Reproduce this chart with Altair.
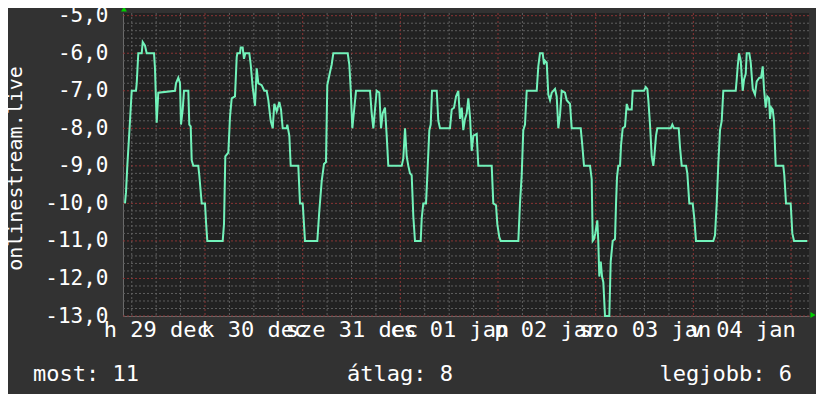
import json
import altair as alt
import pandas as pd
import numpy as np

# ---------------- data ----------------
START = "2014-12-29 03:51"          # left edge of plot
END = "2015-01-05 04:25"            # right edge of plot

# hours after START, and values
hours = [
    0.49, 0.74, 1.06, 1.72, 2.14, 3.19, 3.37, 3.76, 4.60, 4.84, 5.41, 5.82, 7.62, 7.86, 8.28, 8.67,
    12.78, 13.02, 13.59, 14.01, 14.25, 14.67, 14.99, 16.05, 16.29, 16.64, 16.88, 17.27, 18.50, 18.75,
    19.34, 20.15, 20.40, 20.72, 24.50, 24.82, 25.14, 25.88, 26.29, 26.71, 27.52, 27.94, 28.09, 28.75,
    28.92, 29.41, 29.73, 30.05, 31.04, 31.38, 31.87, 32.44, 32.85, 33.25, 34.08, 34.72, 35.31, 35.71,
    36.29, 36.79, 37.18, 37.77, 38.41, 38.83, 39.24, 40.23, 40.37, 40.87, 41.21, 43.08, 43.49, 44.16,
    44.72, 47.75, 48.24, 48.83, 49.39, 49.88, 50.20, 50.87, 51.28, 51.68, 55.22, 55.61, 55.95, 56.35,
    56.76, 57.26, 60.70, 61.11, 61.51, 61.92, 62.34, 62.98, 63.40, 63.82, 64.38, 64.80, 65.19, 68.49,
    68.88, 69.30, 69.71, 70.11, 70.52, 70.94, 71.34, 71.75, 73.15, 73.40, 73.79, 74.46, 74.78, 75.27,
    75.61, 75.93, 77.09, 77.48, 77.90, 80.35, 80.77, 81.34, 81.83, 82.39, 82.81, 83.23, 83.62, 84.04,
    84.46, 84.85, 85.27, 85.69, 86.08, 86.91, 87.31, 90.60, 90.99, 91.66, 91.98, 92.47, 92.81, 97.14,
    97.55, 97.97, 98.36, 98.78, 99.20, 101.66, 102.05, 102.47, 103.13, 103.45, 103.70, 104.12, 104.51,
    104.93, 105.35, 106.16, 106.57, 106.97, 107.38, 107.80, 108.61, 109.03, 109.84, 110.26, 112.47,
    112.86, 113.28, 114.76, 115.17, 115.42, 115.74, 116.06, 116.55, 116.80, 117.04, 117.39, 117.71,
    118.03, 118.44, 119.50, 119.84, 120.33, 120.90, 121.15, 121.39, 121.71, 122.13, 122.38, 122.79,
    123.36, 123.78, 124.17, 125.00, 125.25, 128.03, 128.45, 128.84, 129.09, 129.50, 129.92, 130.31,
    130.56, 130.97, 131.29, 134.59, 134.98, 135.40, 136.55, 136.87, 137.29, 138.35, 138.67, 139.16,
    139.99, 140.38, 140.80, 145.05, 145.47, 145.89, 146.28, 146.70, 147.12, 147.51, 150.56, 150.80,
    151.05, 151.37, 151.79, 152.28, 152.60, 153.02, 153.26, 153.90, 154.25, 154.74, 155.30, 155.72,
    156.36, 156.78, 157.19, 157.51, 157.93, 158.32, 158.74, 158.99, 159.31, 159.65, 159.97, 160.39,
    162.25, 162.50, 162.92, 164.07, 164.47, 164.89, 168.15,
]
values = [
    -10.0, -9.7, -9.0, -7.8, -7.0, -7.0, -6.8, -6.0, -6.0, -5.7, -5.8, -6.0, -6.0, -6.4, -7.85, -7.05,
    -7.0, -6.8, -6.65, -6.8, -7.9, -7.5, -7.0, -7.0, -7.9, -7.95, -8.85, -9.0, -9.0, -9.25,
    -10.0, -10.0, -10.5, -11.0, -11.0, -10.55, -8.75, -8.65, -7.7, -7.2, -7.15, -6.1, -6.0, -6.0,
    -5.85, -5.85, -6.15, -6.0, -6.0, -6.3, -6.9, -7.4, -6.4, -6.8, -6.85, -7.0, -7.0, -7.25,
    -7.8, -8.0, -7.35, -7.55, -7.3, -7.5, -8.0, -8.0, -7.9, -8.2, -9.0, -9.0, -10.0, -10.0,
    -11.0, -11.0, -10.2, -9.4, -8.95, -8.9, -6.85, -6.5, -6.3, -6.0, -6.0, -6.3, -6.95, -8.0,
    -7.55, -7.0, -7.0, -7.6, -8.0, -7.5, -7.0, -7.05, -8.0, -7.6, -7.45, -8.2, -9.0, -9.0,
    -8.8, -8.0, -8.75, -9.0, -9.2, -9.25, -10.35, -11.0, -11.0, -10.4, -10.0, -10.0, -9.25, -8.05,
    -7.9, -7.0, -7.0, -7.8, -8.0, -8.0, -7.5, -7.45, -7.15, -7.0, -7.75, -7.45, -8.05, -7.75,
    -7.6, -7.2, -7.7, -8.6, -8.2, -8.15, -9.0, -9.0, -10.0, -10.05, -10.55, -10.9, -11.0, -11.0,
    -10.0, -9.25, -8.05, -7.9, -7.0, -7.0, -6.35, -6.0, -6.0, -6.3, -6.2, -6.25, -7.1,
    -7.25, -7.05, -6.95, -7.15, -8.0, -7.65, -7.0, -7.05, -7.25, -7.35, -8.0, -8.0,
    -8.45, -9.0, -9.0, -9.35, -11.0, -10.95, -10.8, -10.45, -11.05, -11.95, -11.55, -11.95,
    -12.1, -13.0, -13.0, -11.55, -11.0, -10.95, -10.0, -9.3, -9.0, -9.0, -8.45, -8.0,
    -7.95, -7.35, -7.5, -7.5, -7.0, -7.0, -6.9, -6.95, -7.25, -7.9, -8.75, -9.0,
    -8.75, -8.2, -8.0, -8.0, -7.9, -8.0, -8.0, -8.5, -9.0, -9.0, -9.2, -10.0,
    -10.0, -10.4, -11.0, -11.0, -10.85, -10.0, -8.95, -8.05, -7.8, -7.0, -7.0, -6.7,
    -6.35, -6.0, -6.2, -7.0, -6.7, -6.55, -6.0, -6.0, -6.25, -6.95, -7.1, -6.75,
    -6.65, -6.65, -6.35, -6.95, -7.45, -7.15, -7.2, -7.75, -7.45, -7.5, -7.8, -9.0,
    -9.0, -9.25, -10.0, -10.0, -10.8, -11.0, -11.0,
]

y_title = "onlinestream.live"
legend_items = ["most: 11", "átlag: 8", "legjobb: 6"]
day_abbr = ["v", "h", "k", "sze", "cs", "p", "szo"]
month_abbr = ["jan", "feb", "márc", "ápr", "máj", "jún", "júl", "aug", "szept", "okt", "nov", "dec"]
y_ticks = [-13, -12, -11, -10, -9, -8, -7, -6, -5]

# ---------------- build tables ----------------
start = pd.Timestamp(START)
end = pd.Timestamp(END)
fmt = "%Y-%m-%dT%H:%M:%S"
df = pd.DataFrame({
    "t": [(start + pd.Timedelta(hours=h)).strftime(fmt) for h in hours],
    "v": values,
})

def dt(ts):
    return alt.DateTime(year=ts.year, month=ts.month, date=ts.day, hours=ts.hour, minutes=ts.minute)

x_scale = alt.Scale(domain=[dt(start), dt(end)])
y_scale = alt.Scale(domain=[-13, -4.928], nice=False, zero=False)

six = pd.date_range("2014-12-29 06:00", "2015-01-05 00:00", freq="6h")
minor_v = pd.DataFrame({"t": [d.strftime(fmt) for d in six if d.hour != 0]})
major_v = pd.DataFrame({"t": [d.strftime(fmt) for d in six if d.hour == 0]})
noons = [dt(d) for d in pd.date_range("2014-12-29 12:00", "2015-01-04 12:00", freq="1D")]

ygrid = np.round(np.arange(-13, -4.99, 0.2), 1)
minor_h = pd.DataFrame({"v": [g for g in ygrid if abs(g - round(g)) > 1e-6]})
major_h = pd.DataFrame({"v": [float(g) for g in y_ticks]})

W, H = 686, 303
FONT = "DejaVu Sans Mono"
MINOR = "#5e5e5e"
MAJOR = "#8a3434"

x_label_expr = (json.dumps(day_abbr, ensure_ascii=False) + "[day(datum.value)] + ' ' + timeFormat(datum.value, '%d') + ' ' + "
                + json.dumps(month_abbr, ensure_ascii=False) + "[month(datum.value)]")
y_label_expr = "(datum.value < 0 ? '-' : '') + replace(format(abs(datum.value), '.1f'), '.', ',')"

x_axis = alt.Axis(
    values=noons, labelExpr=x_label_expr, grid=False, ticks=False, title=None,
    domain=True, domainColor="#6a6a6a", labelOverlap=False, labelFlush=False, labelBound=False,
    labelFont=FONT, labelFontSize=22, labelColor="#ffffff", labelPadding=3, labelAlign="center")
y_axis = alt.Axis(
    values=y_ticks, labelExpr=y_label_expr, grid=False, ticks=False, title=y_title,
    domain=True, domainColor="#6a6a6a", labelOverlap=False, labelFlush=False, labelBound=False,
    labelFont=FONT, labelFontSize=21, labelColor="#ffffff", labelPadding=15,
    titleFont=FONT, titleFontSize=20, titleFontWeight="normal", titleColor="#ffffff",
    titleAngle=270, titleAlign="center", titleBaseline="middle", titleX=-108, titleY=155)

vminor = alt.Chart(minor_v).mark_rule(color=MINOR, strokeDash=[2, 2], strokeWidth=1).encode(
    x=alt.X("t:T", scale=x_scale, axis=x_axis), y=alt.value(0), y2=alt.value(H))
vmajor = alt.Chart(major_v).mark_rule(color=MAJOR, strokeDash=[2, 2], strokeWidth=1).encode(
    x=alt.X("t:T", scale=x_scale, axis=x_axis), y=alt.value(0), y2=alt.value(H))
hminor = alt.Chart(minor_h).mark_rule(color=MINOR, strokeDash=[2, 2], strokeWidth=1).encode(
    y=alt.Y("v:Q", scale=y_scale, axis=y_axis), x=alt.value(0), x2=alt.value(W))
hmajor = alt.Chart(major_h).mark_rule(color=MAJOR, strokeDash=[2, 2], strokeWidth=1).encode(
    y=alt.Y("v:Q", scale=y_scale, axis=y_axis), x=alt.value(0), x2=alt.value(W))

line = alt.Chart(df).mark_line(color="#72f2ba", strokeWidth=2, interpolate="linear").encode(
    x=alt.X("t:T", scale=x_scale, axis=x_axis),
    y=alt.Y("v:Q", scale=y_scale, axis=y_axis),
)

one = pd.DataFrame({"a": [0]})
arrow_up = alt.Chart(one).mark_point(shape="triangle-up", filled=True, color="#00d000", size=35, opacity=1).encode(
    x=alt.value(1), y=alt.value(-4))
arrow_right = alt.Chart(one).mark_point(shape="triangle-right", filled=True, color="#00d000", size=35, opacity=1).encode(
    x=alt.value(690), y=alt.value(302))

legend_x = [-90, 224, 669]
legend_align = ["left", "left", "right"]
legend_layers = [
    alt.Chart(pd.DataFrame({"s": [legend_items[i]]})).mark_text(
        font=FONT, fontSize=22, color="#ffffff", align=legend_align[i], baseline="middle").encode(
        text="s:N", x=alt.value(legend_x[i]), y=alt.value(361))
    for i in range(3)
]

chart = alt.layer(vminor, hminor, vmajor, hmajor, line, arrow_up, arrow_right, *legend_layers).properties(
    width=W, height=H, background="#323232",
    padding={"left": 115, "right": 7, "top": 5, "bottom": 78},
    autosize=alt.AutoSizeParams(type="none"),
).configure_view(fill="#222222", strokeWidth=0)

chart.save("out.html", embed_options={"renderer": "svg", "actions": False})
